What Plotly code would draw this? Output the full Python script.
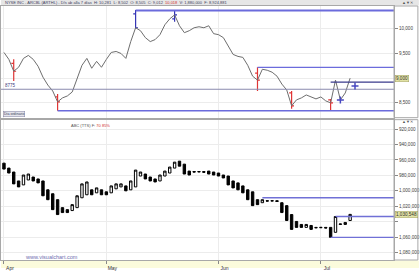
import plotly.graph_objects as go

# ---------------- data ----------------
days = list(range(72))
month_ticks = [0, 21, 44, 65]
month_labels = ["Apr", "May", "Jun", "Jul"]

price_close = [9520, 9380, 9140, 9220, 9400, 9460, 9380, 9240, 9020, 8860,
               8740, 8520, 8600, 8640, 8720, 9000, 9260, 9400, 9200, 9340,
               9220, 9380, 9520, 9540, 9500, 9400, 9740, 10020, 9960, 9820,
               9740, 9780, 9880, 10080, 10200, 10280, 10060, 9920, 9960, 10020,
               10040, 10020, 10060, 9900, 9880, 9820, 9640, 9480, 9440, 9420,
               9260, 9040, 8960, 9180, 9160, 9120, 9040, 8880, 8760, 8440,
               8560, 8600, 8660, 8620, 8580, 8620, 8540, 8500, 8960, 8560,
               8700, 9000]

low_mark_days = [2, 11, 52, 59, 67]
low_mark_open = [9300, 8620, 9100, 8700, 8560]
low_mark_high = [9380, 8680, 9220, 8740, 8580]
low_mark_low = [8940, 8340, 8740, 8380, 8340]
low_mark_close = [9140, 8520, 8960, 8440, 8500]

high_mark_days = [27, 35]
high_mark_open = [10300, 10200]
high_mark_high = [10380, 10380]
high_mark_low = [10000, 10140]
high_mark_close = [10020, 10280]

target_days = [69, 72]
target_values = [8560, 8840]

top_level_days = [27, 52, 67, 11]
top_level_values = [10370, 9220, 8920, 8340]
top_level_colors = ["#6b6bdc", "#6b6bdc", "#3a3a8c", "#6b6bdc"]
top_level_widths = [2, 1.3, 1.3, 1.3]
ref_level = 8775
top_ticks = [8500, 9000, 9500, 10000]
top_tick_labels = ["8,500", "", "9,500", "10,000"]

cndl_open = [964100, 970500, 975600, 987200, 992300, 985900, 982100, 984600, 987200, 998700,
             1003800, 1011500, 1021800, 1024400, 1025600, 1021800, 1009000, 1005100, 998700, 1002600,
             998700, 1001300, 1002600, 997400, 994900, 993600, 998700, 994900, 980800, 978200,
             982100, 984600, 987200, 980800, 976900, 970500, 961500, 965400, 974400, 975000,
             975600, 975000, 974400, 975600, 976900, 979500, 980800, 987200, 989700, 993600,
             998700, 1001300, 1011500, 1015400, 1012800, 1013300, 1012800, 1015400, 1019200, 1030800,
             1039700, 1043600, 1047400, 1044900, 1047400, 1047900, 1047400, 1047400, 1053800, 1043600,
             1043600, 1038500]
cndl_close = [971800, 976900, 991000, 994900, 979500, 978200, 987200, 989700, 1006400, 1011500,
              1024400, 1030800, 1028200, 1028200, 1017900, 1006400, 991000, 988500, 1005100, 996200,
              1005100, 1005100, 993600, 991000, 991000, 1000000, 987200, 973100, 975600, 984600,
              987200, 988500, 979500, 974400, 969200, 962800, 968000, 978200, 979500, 975600,
              975000, 975900, 978200, 979500, 980800, 983300, 992300, 996200, 998700, 1002600,
              1011500, 1019200, 1017900, 1011500, 1013300, 1012800, 1013800, 1028200, 1038500, 1050000,
              1047400, 1047400, 1043600, 1050000, 1047900, 1047400, 1048200, 1060300, 1033300, 1043000,
              1041000, 1030548]
bottom_ticks = [920000, 940000, 960000, 980000, 1000000, 1020000, 1040000, 1060000, 1080000]
bottom_tick_labels = ["920,000", "940,000", "960,000", "980,000", "1,000,000", "1,020,000",
                      "", "1,060,000", "1,080,000"]
bottom_level_days = [53, 68, 67]
bottom_level_values = [1009000, 1033300, 1060300]

# ---------------- layout constants ----------------
W, H = 420, 271
ML, MR, MT, MB = 0, 25, 6, 8
PH = H - MT - MB
PW = W - ML - MR
X_RANGE = [-0.61, 80.0]


def fy(ypx):
    return (H - MB - ypx) / PH


def fx(xpx):
    return (xpx - ML) / PW


FONT = "Liberation Sans, Arial, sans-serif"

fig = go.Figure()

# top panel: close line
fig.add_trace(go.Scatter(x=days, y=price_close, mode="lines",
                         line=dict(color="#6e6e6e", width=1),
                         xaxis="x2", yaxis="y2", hoverinfo="skip"))

# level lines top
for d, v, c, w in zip(top_level_days, top_level_values, top_level_colors, top_level_widths):
    fig.add_trace(go.Scatter(x=[d, X_RANGE[1]], y=[v, v], mode="lines",
                             line=dict(color=c, width=w), xaxis="x2", yaxis="y2",
                             hoverinfo="skip"))
fig.add_trace(go.Scatter(x=X_RANGE, y=[ref_level, ref_level], mode="lines",
                         line=dict(color="#8a8aae", width=1.2), xaxis="x2", yaxis="y2",
                         hoverinfo="skip"))

# swing markers
fig.add_trace(go.Ohlc(x=low_mark_days, open=low_mark_open, high=low_mark_high,
                      low=low_mark_low, close=low_mark_close, tickwidth=0.07,
                      increasing=dict(line=dict(color="#e03535", width=1.2)),
                      decreasing=dict(line=dict(color="#e03535", width=1.2)),
                      xaxis="x2", yaxis="y2", hoverinfo="skip"))
fig.add_trace(go.Ohlc(x=high_mark_days, open=high_mark_open, high=high_mark_high,
                      low=high_mark_low, close=high_mark_close, tickwidth=0.07,
                      increasing=dict(line=dict(color="#3535b5", width=1.2)),
                      decreasing=dict(line=dict(color="#3535b5", width=1.2)),
                      xaxis="x2", yaxis="y2", hoverinfo="skip"))
fig.add_trace(go.Scatter(x=target_days, y=target_values, mode="markers",
                         marker=dict(symbol="cross-thin", size=5,
                                     line=dict(color="#4848c0", width=1.5)),
                         xaxis="x2", yaxis="y2", hoverinfo="skip"))

# bottom panel candles
cndl_high = [max(o, c) for o, c in zip(cndl_open, cndl_close)]
cndl_low = [min(o, c) for o, c in zip(cndl_open, cndl_close)]
fig.add_trace(go.Candlestick(x=days, open=cndl_open, high=cndl_high, low=cndl_low,
                             close=cndl_close, whiskerwidth=0,
                             increasing=dict(fillcolor="#000000", line=dict(color="#000000", width=1)),
                             decreasing=dict(fillcolor="#ffffff", line=dict(color="#000000", width=1)),
                             xaxis="x", yaxis="y", hoverinfo="skip"))
for d, v in zip(bottom_level_days, bottom_level_values):
    fig.add_trace(go.Scatter(x=[d, X_RANGE[1]], y=[v, v], mode="lines",
                             line=dict(color="#7070d6", width=1.3), xaxis="x", yaxis="y",
                             hoverinfo="skip"))

axis_common = dict(showline=True, mirror=True, linecolor="#a8a8a8", linewidth=1,
                   zeroline=False, gridcolor="#ececec", gridwidth=1)

fig.update_layout(
    width=W, height=H, margin=dict(l=ML, r=MR, t=MT, b=MB),
    paper_bgcolor="#ffffff", plot_bgcolor="#ffffff", showlegend=False,
    font=dict(family=FONT, size=5, color="#404040"),
    xaxis=dict(domain=[0, 1], range=X_RANGE, tickvals=month_ticks, ticktext=month_labels,
               ticks="outside", ticklen=3, tickcolor="#888888", ticklabelshift=6,
               tickfont=dict(size=5, color="#303030"), rangeslider=dict(visible=False),
               anchor="y", **axis_common),
    xaxis2=dict(domain=[0, 1], range=X_RANGE, tickvals=month_ticks, showticklabels=False,
                ticks="", rangeslider=dict(visible=False), anchor="y2", matches="x",
                **axis_common),
    yaxis=dict(domain=[0, fy(121)], range=[1089700, 907700], side="right",
               tickvals=bottom_ticks, ticktext=bottom_tick_labels, ticks="outside", ticklen=3,
               tickcolor="#888888", tickfont=dict(size=4.6, color="#404040"),
               anchor="x", **axis_common),
    yaxis2=dict(domain=[fy(119), 1], range=[8200, 10460], side="right",
                tickvals=top_ticks, ticktext=top_tick_labels, ticks="outside", ticklen=3,
                tickcolor="#888888", tickfont=dict(size=4.6, color="#404040"),
                anchor="x2", **axis_common),
)

shapes = [
    dict(type="rect", xref="paper", yref="paper", x0=0, x1=fx(W), y0=fy(5.5), y1=fy(0),
         fillcolor="#e6e6e6", line=dict(width=0), layer="below"),
    dict(type="rect", xref="paper", yref="paper", x0=0, x1=fx(W), y0=fy(H), y1=fy(263.5),
         fillcolor="#fbfbdc", line=dict(width=0), layer="below"),
    dict(type="rect", xref="paper", yref="paper", x0=1, x1=fx(419), y0=fy(119), y1=fy(6),
         line=dict(color="#a8a8a8", width=1)),
    dict(type="rect", xref="paper", yref="paper", x0=1, x1=fx(419), y0=fy(263), y1=fy(121),
         line=dict(color="#a8a8a8", width=1)),
]
fig.update_layout(shapes=shapes)

title_txt = ("NYSE INC - ARCBL (ARTHL) - D/s ab alla 7 días  H: 10,281  L: 8,502  O: 8,505  C: 9,012  "
             "<span style='color:#d03030'>10,018</span>  V: 1,880,000  F: 8,924,881")
ann = [
    dict(xref="paper", yref="paper", x=fx(2), y=fy(2.8), text=title_txt, showarrow=False,
         xanchor="left", yanchor="middle", font=dict(size=4, color="#404060")),
    dict(xref="paper", yref="paper", x=fx(409), y=fy(2.5), text="▲▼✕", showarrow=False,
         xanchor="center", yanchor="middle", font=dict(size=4, color="#555555")),
    dict(xref="paper", yref="paper", x=fx(409), y=fy(122.5), text="▲▼✕", showarrow=False,
         xanchor="center", yanchor="middle", font=dict(size=4, color="#555555")),
    dict(xref="paper", yref="y2", x=fx(2), y=ref_level, text=f"{ref_level}", showarrow=False,
         xanchor="left", yanchor="bottom", yshift=-1, font=dict(size=4.5, color="#404080")),
    dict(xref="paper", yref="paper", x=fx(2), y=fy(115), text="Dia ordinario", showarrow=False,
         xanchor="left", yanchor="middle", bgcolor="#e4e4ec", bordercolor="#8080a0",
         borderwidth=0.5, borderpad=0.5, font=dict(size=3.6, color="#404060")),
    dict(xref="paper", yref="paper", x=fx(68), y=fy(122), text="ABC (TTS) F: <span style='color:#d03030'>70 85%</span>",
         showarrow=False, xanchor="left", yanchor="top", font=dict(size=4, color="#505050")),
    dict(xref="paper", yref="paper", x=fx(22), y=fy(260), text="www.visualchart.com", showarrow=False,
         xanchor="left", yanchor="middle", font=dict(size=5.5, color="#7070b0")),
    dict(xref="paper", yref="y2", x=1, y=price_close[-1], text=f"{price_close[-1]:,}", showarrow=False,
         xanchor="left", yanchor="middle", xshift=1, bgcolor="#e2e2a4", bordercolor="#a0a060",
         borderwidth=0.5, borderpad=0.5, font=dict(size=4.6, color="#303030")),
    dict(xref="paper", yref="y", x=1, y=cndl_close[-1], text=f"{cndl_close[-1]:,}", showarrow=False,
         xanchor="left", yanchor="middle", xshift=1, bgcolor="#e2e2a4", bordercolor="#a0a060",
         borderwidth=0.5, borderpad=0.5, font=dict(size=4.6, color="#303030")),
]
fig.update_layout(annotations=ann)

fig.write_html("out.html")
